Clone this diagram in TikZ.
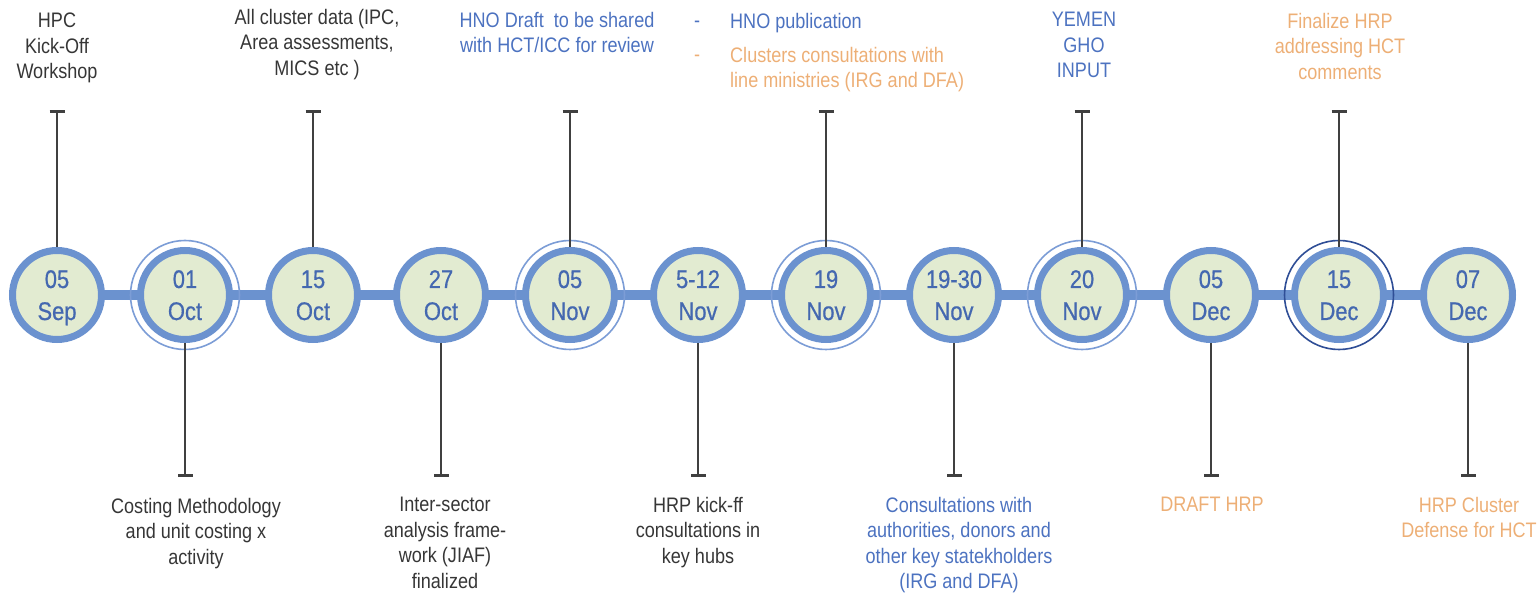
\documentclass[tikz,border=0pt]{standalone}
\usepackage{fontspec}
\setmainfont{Liberation Sans}[FakeStretch=0.86]
\newfontfamily\datefont{Liberation Sans}[FakeStretch=0.86,FakeBold=0.6]
\usetikzlibrary{arrows.meta,backgrounds}
\definecolor{dotfill}{HTML}{E2EBD1}
\definecolor{dotline}{HTML}{6B92CF}
\definecolor{datecol}{HTML}{4468B0}
\definecolor{darktext}{HTML}{363636}
\definecolor{bluetext}{HTML}{4C72C0}
\definecolor{orangetext}{HTML}{EDAF76}
\definecolor{ringlight}{HTML}{7C9DD6}
\definecolor{ringdark}{HTML}{2F4E96}
\definecolor{tickcol}{HTML}{404040}
\begin{document}
\begin{tikzpicture}[x=1pt,y=-1pt,
  dot/.style={circle,draw=dotline,fill=dotfill,line width=7pt,minimum size=89pt,inner sep=0pt},
  datetxt/.style={text=datecol,font=\datefont\fontsize{25.5}{32}\selectfont,inner sep=0pt,anchor=base},
  bar/.style={draw=dotline,line width=10pt},
  ringA/.style={draw=ringlight,line width=1.6pt},
  ringB/.style={draw=ringdark,line width=1.6pt},
  tickline/.style={draw=tickcol,line width=2pt,-{Bar[width=15pt,line width=3pt]}},
  txt/.style={font=\fontsize{21}{25.5}\selectfont,inner sep=0pt,align=center,anchor=north},
  dark/.style={txt,text=darktext},
  bluet/.style={txt,text=bluetext},
  oranget/.style={txt,text=orangetext},
]
\useasboundingbox (0,0) rectangle (1537,593);

% date circles
\foreach \n/\x/\num/\mon in {1/57/05/Sep,2/185/01/Oct,3/313/15/Oct,4/441/27/Oct,5/570/05/Nov,6/698/5-12/Nov,7/826/19/Nov,8/954/19-30/Nov,9/1082/20/Nov,10/1211/05/Dec,11/1339/15/Dec,12/1468/07/Dec}{
  \node[dot] (d\n) at (\x,295) {};
  \node[datetxt] (n\n) at ([yshift=7pt]d\n.center) {\num};
  \node[datetxt] (m\n) at ([yshift=-25pt]d\n.center) {\mon};
}

\begin{scope}[on background layer]
  \draw[bar] (d1.center) -- (d12.center);
\end{scope}

% outer rings
\foreach \n in {2,5,7,9}{
  \draw[ringA] (d\n.center) circle (54.5);
}
\draw[ringB] (d11.center) circle (54.5);

% ticks
\foreach \n/\x in {1/57,3/313,5/570,7/826,9/1082,11/1339}{
  \coordinate (t\n) at (\x,110);
  \draw[tickline] (d\n) -- (t\n);
}
\foreach \n/\x in {2/185,4/441,6/698,8/954,10/1211,12/1468}{
  \coordinate (t\n) at (\x,477);
  \draw[tickline] (d\n) -- (t\n);
}

% top texts
\node[dark] (a1) at (57,13) {HPC\\Kick-Off\\Workshop};
\node[dark] (a3) at (317,9) {All cluster data (IPC,\\Area assessments,\\MICS etc )};
\node[bluet] (a5) at (557,12) {HNO Draft\ \ to be shared\\with HCT/ICC for review};
\node[bluet,anchor=base] (dash1) at (697,28) {-};
\node[bluet,anchor=north west,align=left] (a7a) at (730,13) {HNO publication};
\node[oranget,anchor=base] (dash2) at (697,62) {-};
\node[oranget,anchor=north west,align=left] (a7b) at (730,47) {Clusters consultations with\\line ministries (IRG and DFA)};
\node[bluet] (a9) at (1084,12) {YEMEN\\GHO\\INPUT};
\node[oranget] (a11) at (1340,13) {Finalize HRP\\addressing HCT\\comments};

% bottom texts
\node[dark] (b2) at (196,498) {Costing Methodology\\and unit costing x\\activity};
\node[dark] (b4) at (445,497) {Inter-sector\\analysis frame-\\work (JIAF)\\finalized};
\node[dark] (b6) at (698,497) {HRP kick-ff\\consultations in\\key hubs};
\node[bluet] (b8) at (959,497) {Consultations with\\authorities, donors and\\other key statekholders\\(IRG and DFA)};
\node[oranget] (b10) at (1212,497) {DRAFT HRP};
\node[oranget] (b12) at (1469,497) {HRP Cluster\\Defense for HCT};
\end{tikzpicture}
\end{document}
